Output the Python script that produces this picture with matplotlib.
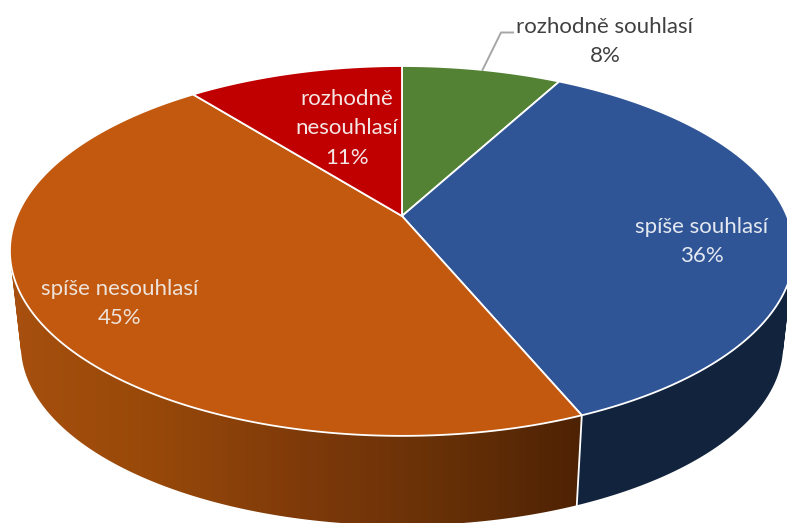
import numpy as np
import matplotlib
matplotlib.use("Agg")
import matplotlib.pyplot as plt
from matplotlib.patches import Polygon, PathPatch
from matplotlib.path import Path
from matplotlib.colors import LinearSegmentedColormap

categories = ["rozhodně souhlasí", "spíše souhlasí", "spíše nesouhlasí", "rozhodně nesouhlasí"]
values = [7.9, 35.8, 45.6, 10.7]
shown = ["8%", "36%", "45%", "11%"]
top_colors = ["#548235", "#2F5597", "#C3590F", "#C00000"]
side_colors = ["#3A5A24", "#12233D", None, "#860000"]

CX, CY, S, A, K = 402.0, 216.0, 385.0, -137.5, 0.189
XSCALE, YV = 0.972, 3630.0
W, H = 787, 523

def rim(theta):
    u, v = np.sin(theta), np.cos(theta)
    w = 1 + K * v
    return CX + S * u / w, (A * v + CY) / w

def lower(x, y):
    return CX + XSCALE * (x - CX), YV + XSCALE * (y - YV)

def wall_path(t):
    x, y = rim(t)
    bx, by = lower(x, y)
    verts, codes = [], []
    for j in range(len(t) - 1):
        q = [(x[j], y[j]), (x[j + 1], y[j + 1]), (bx[j + 1], by[j + 1]), (bx[j], by[j]), (x[j], y[j])]
        area = sum(q[k][0] * q[k + 1][1] - q[k + 1][0] * q[k][1] for k in range(4))
        if area < 0:
            q = q[::-1]
        verts += q
        codes += [Path.MOVETO, Path.LINETO, Path.LINETO, Path.LINETO, Path.CLOSEPOLY]
    return Path(verts, codes)

plt.rcParams["font.family"] = ["Lato", "DejaVu Sans"]
fig = plt.figure(figsize=(W / 100, H / 100), dpi=100)
ax = fig.add_axes([0, 0, 1, 1])
ax.set_xlim(0, W)
ax.set_ylim(H, 0)
ax.axis("off")

bounds = np.cumsum([0] + values) / 100 * 2 * np.pi
stops = [(0, "#A8500F"), (150, "#984909"), (300, "#7F3A0A"), (450, "#663007"), (582, "#4E2204"), (787, "#4E2204")]
cmap = LinearSegmentedColormap.from_list("side", [(x / W, c) for x, c in stops])

# side walls
for i in range(4):
    t = np.linspace(bounds[i], bounds[i + 1], 200)
    path = wall_path(t)
    if side_colors[i] is None:
        im = ax.imshow(np.linspace(0, 1, 787)[None, :], cmap=cmap, aspect="auto",
                       extent=(0, W, H, 0), zorder=1)
        clip = PathPatch(path, transform=ax.transData, fc="none", ec="none")
        ax.add_patch(clip)
        im.set_clip_path(clip)
    else:
        ax.add_patch(PathPatch(path, fc=side_colors[i], ec="none", zorder=2))

ax.set_xlim(0, W)
ax.set_ylim(H, 0)

# white seam at the blue/orange edge
x0, y0 = rim(bounds[2])
x1, y1 = lower(x0, y0)
ax.plot([x0, x1], [y0, y1], color="white", lw=1.3, zorder=3)

# top faces
for i in range(4):
    t = np.linspace(bounds[i], bounds[i + 1], 200)
    x, y = rim(t)
    pts = np.r_[[[CX, CY]], np.c_[x, y]]
    ax.add_patch(Polygon(pts, closed=True, fc=top_colors[i], ec="white", lw=1.3,
                         joinstyle="round", zorder=4))

# leader
ax.plot([482.5, 501, 513], [70, 32.5, 32.5], color="#A6A6A6", lw=1.4, zorder=5)

fs = 16
ls = 1.62
ax.text(605, 41.5, f"{categories[0]}\n{shown[0]}", color="#404040", fontsize=fs, ha="center",
        va="center", linespacing=ls, zorder=6)
ax.text(702, 241.5, f"{categories[1]}\n{shown[1]}", color="#E4E8F0", fontsize=fs, ha="center",
        va="center", linespacing=ls, zorder=6)
ax.text(120, 303.5, f"{categories[2]}\n{shown[2]}", color="#EDE3DA", fontsize=fs, ha="center",
        va="center", linespacing=ls, zorder=6)
ax.text(347, 128.5, "rozhodně\nnesouhlasí\n" + shown[3], color="#F5E6E6", fontsize=fs, ha="center",
        va="center", linespacing=ls, zorder=6)

fig.savefig("out.png", dpi=100)
